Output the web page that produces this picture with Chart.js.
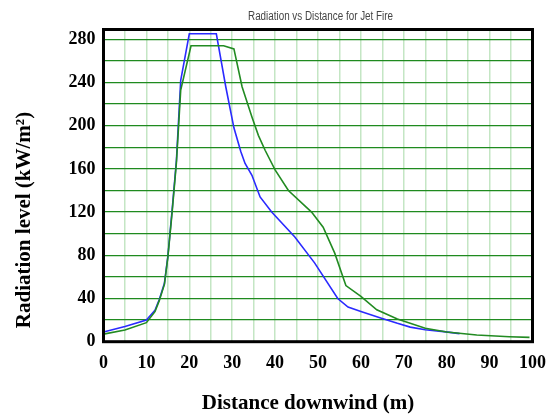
<!DOCTYPE html>
<html>
<head>
<meta charset="utf-8">
<script src="https://cdn.jsdelivr.net/npm/chart.js@4/dist/chart.umd.min.js"></script>
<style>
  html, body { margin: 0; padding: 0; background: #fff; }
  #wrap { position: relative; width: 557px; height: 415px; }
</style>
</head>
<body>
<div id="wrap"><canvas id="c" width="557" height="415"></canvas></div>
<script>
const chartTitle = "Radiation vs Distance for Jet Fire";
const xTitle = "Distance downwind (m)";
const yTitle = "Radiation level (kW/m\u00B2)";

const xTicks = [0,5,10,15,20,25,30,35,40,45,50,55,60,65,70,75,80,85,90,95,100];
const xTickLabels = [0,10,20,30,40,50,60,70,80,90,100];
const yTicks = [0,20,40,60,80,100,120,140,160,180,200,220,240,260,280];
const yTickLabels = [0,40,80,120,160,200,240,280];

const blueX = [0, 5, 10, 12, 13, 14.2, 15, 16, 17, 18, 20, 26.3, 28.5, 30.4, 32, 33, 34.6, 36.5, 39.2, 44.6, 49.2, 54.6, 57, 60, 64.6, 68.5, 71.5, 75, 79.3, 83];
const blueY = [9, 14, 20, 29, 39, 54, 79, 122, 168, 242, 285, 285, 236, 198, 176, 165, 154, 134, 120, 97, 73, 40, 32, 28, 22, 17, 13.5, 11, 9.3, 7.5];

const greenX = [0, 5, 10, 12, 13, 14.2, 15, 16, 17, 18, 20.4, 28, 30.4, 32.3, 34.6, 36.1, 37.7, 40, 43.1, 48.5, 51.2, 53.9, 56.5, 60, 63.7, 68.5, 75, 80, 87, 94.6, 99.3];
const greenY = [7, 10.8, 17.6, 27.8, 38, 53, 78, 120, 166, 233, 274, 274, 271, 236, 208, 191, 177, 159, 140, 120, 106, 82, 52, 42, 29.5, 21, 12.5, 9, 6.2, 4.6, 4];

const toPts = (xs, ys) => xs.map((x, i) => ({ x: x, y: ys[i] }));

const overlay = {
  id: 'overlay',
  afterDraw(chart) {
    const { ctx, chartArea: a } = chart;
    ctx.save();
    // frame
    ctx.strokeStyle = '#000';
    ctx.lineWidth = 3;
    ctx.strokeRect(a.left, a.top, a.right - a.left, a.bottom - a.top);
    // chart title (condensed)
    ctx.fillStyle = '#444';
    ctx.font = '12px "Liberation Sans Narrow", "Liberation Sans", Arial, sans-serif';
    ctx.textAlign = 'center';
    ctx.textBaseline = 'middle';
    ctx.save();
    ctx.translate(320.5, 17);
    ctx.scale(0.82, 1);
    ctx.fillText(chartTitle, 0, 0);
    ctx.restore();
    // axis titles
    ctx.fillStyle = '#000';
    ctx.font = 'bold 21px "Liberation Serif", "Times New Roman", serif';
    ctx.fillText(xTitle, 308, 404);
    ctx.save();
    ctx.translate(25, 220);
    ctx.rotate(-Math.PI / 2);
    ctx.fillText(yTitle, 0, 0);
    ctx.restore();
    ctx.restore();
  }
};

new Chart(document.getElementById('c'), {
  type: 'line',
  data: {
    datasets: [
      { label: 'Green', data: toPts(greenX, greenY), borderColor: '#228b22', borderWidth: 1.6, pointRadius: 0, tension: 0, fill: false },
      { label: 'Blue', data: toPts(blueX, blueY), borderColor: '#2a2aff', borderWidth: 1.6, pointRadius: 0, tension: 0, fill: false }
    ]
  },
  options: {
    responsive: false,
    devicePixelRatio: 1,
    animation: false,
    layout: { padding: { top: 29.5, right: 21, bottom: 0, left: 0 } },
    plugins: { legend: { display: false }, title: { display: false }, tooltip: { enabled: false } },
    scales: {
      x: {
        type: 'linear',
        min: 0, max: 100,
        afterBuildTicks: s => { s.ticks = xTicks.map(v => ({ value: v })); },
        afterFit: s => { s.height = 73.3; },
        grid: { color: '#c4e6c4', lineWidth: 1.5, drawTicks: false },
        border: { display: false },
        ticks: {
          padding: 11,
          color: '#000',
          maxRotation: 0,
          autoSkip: false,
          font: { family: '"Liberation Serif", "Times New Roman", serif', size: 18, weight: 'bold' },
          callback: v => xTickLabels.includes(v) ? String(v) : ''
        },
        title: { display: false }
      },
      y: {
        type: 'linear',
        min: 0, max: 289,
        afterBuildTicks: s => { s.ticks = yTicks.map(v => ({ value: v })); },
        afterFit: s => { s.width = 103.5; },
        grid: { color: '#1f8a1f', lineWidth: 1.2, drawTicks: false },
        border: { display: false },
        ticks: {
          padding: 8,
          color: '#000',
          autoSkip: false,
          font: { family: '"Liberation Serif", "Times New Roman", serif', size: 18, weight: 'bold' },
          callback: v => yTickLabels.includes(v) ? String(v) : ''
        },
        title: { display: false }
      }
    }
  },
  plugins: [overlay]
});
</script>
</body>
</html>
